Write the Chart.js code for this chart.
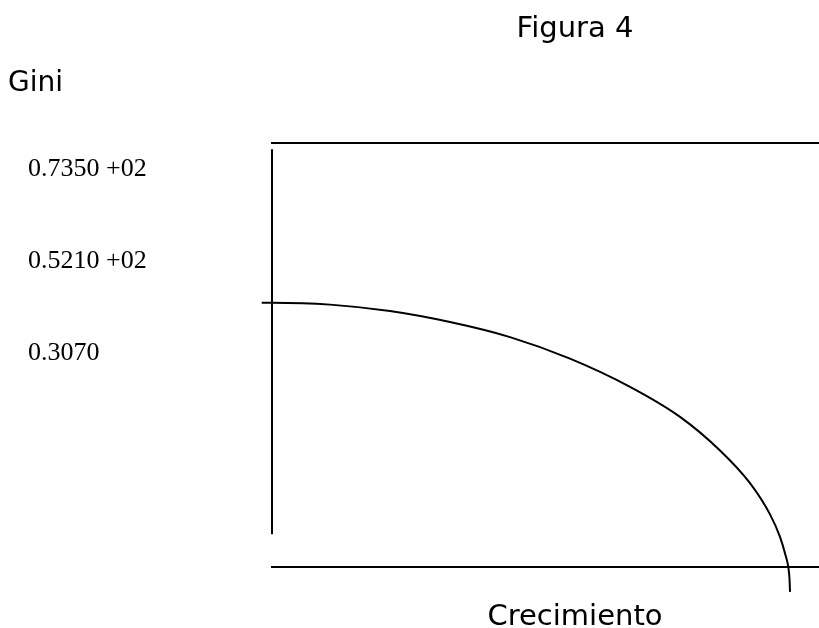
<!DOCTYPE html>
<html>
<head>
<meta charset="utf-8">
<title>Figura 4</title>
<script src="https://cdn.jsdelivr.net/npm/chart.js@4/dist/chart.umd.min.js"></script>
<style>
    html, body { margin: 0; padding: 0; background: #fff; overflow: hidden; }
    /* the figure is a crop: the drawing runs a bit past the right and bottom edges */
    #wrap { width: 819px; height: 628px; position: relative; overflow: hidden; }
    #chartGini { display: block; }
</style>
</head>
<body>
<div id="wrap"><canvas id="chartGini" width="878" height="640"></canvas></div>
<script>
// --- Data ---

// Gini tick values and the labels printed next to them
const giniTicks = [0.735, 0.521, 0.307];
const giniLabels = ['0.7350 +02', '0.5210 +02', '0.3070'];

// Growth (x) vs Gini (y) curve, sampled along the drawn line
const curveX = [-1.7, 0, 9.57, 19.47, 29.37, 39.27, 49.17, 59.08, 67.33, 73.93,
    78.88, 82.18, 83.83, 84.74, 85.2, 85.4, 85.48];
const curveY = [0.4244, 0.4244, 0.4202, 0.4051, 0.3795, 0.3445, 0.2944, 0.2287, 0.1588, 0.0805,
    0.0043, -0.0684, -0.1208, -0.1634, -0.1914, -0.2193, -0.2489];

// The free-standing vertical axis line
const vAxisX = [0, 0];
const vAxisY = [0.782, -0.115];

// scale ranges
const xRange = [0, 100];
const yRange = [-0.191, 0.796];

function toPoints(xs, ys) {
    return xs.map((x, i) => ({ x: x, y: ys[i] }));
}

const sansFont = "'DejaVu Sans', Verdana, sans-serif";
const serifFont = "'Liberation Serif', 'Times New Roman', serif";

Chart.defaults.color = '#000';

window.onload = function () {
    const ctx = document.getElementById('chartGini').getContext('2d');

    new Chart(ctx, {
        type: 'scatter',
        data: {
            datasets: [{
                label: 'Curva',
                data: toPoints(curveX, curveY),
                xAxisID: 'x',
                yAxisID: 'y',
                showLine: true,
                borderColor: '#000',
                borderWidth: 2,
                pointRadius: 0,
                cubicInterpolationMode: 'monotone',
                capBezierPoints: false,
                clip: false
            }, {
                label: 'Eje',
                data: toPoints(vAxisX, vAxisY),
                xAxisID: 'x',
                yAxisID: 'y',
                showLine: true,
                borderColor: '#000',
                borderWidth: 2,
                pointRadius: 0,
                clip: false
            }]
        },
        options: {
            responsive: false,
            animation: false,
            layout: { padding: { left: 8, right: 0, top: 0, bottom: 0 } },
            plugins: {
                legend: { display: false },
                tooltip: { enabled: false },
                title: {
                    display: true,
                    text: 'Figura 4',
                    fullSize: false,
                    font: { family: sansFont, size: 29, weight: 'normal' },
                    padding: { top: 12.3, bottom: 0 }
                },
                subtitle: {
                    display: true,
                    text: 'Gini',
                    align: 'start',
                    font: { family: sansFont, size: 28, weight: 'normal' },
                    padding: { top: 20.1, bottom: 42.5 }
                }
            },
            scales: {
                x: {
                    type: 'linear',
                    position: 'bottom',
                    min: xRange[0],
                    max: xRange[1],
                    grid: { display: false, drawTicks: false },
                    border: { display: true, color: '#000', width: 2 },
                    ticks: { display: false },
                    title: {
                        display: true,
                        text: 'Crecimiento',
                        font: { family: sansFont, size: 29, weight: 'normal' },
                        padding: { top: 33, bottom: 5.2 }
                    }
                },
                xTop: {
                    type: 'linear',
                    position: 'top',
                    min: xRange[0],
                    max: xRange[1],
                    grid: { display: false, drawTicks: false },
                    border: { display: true, color: '#000', width: 2 },
                    ticks: { display: false },
                    afterFit: (s) => { s.height = 0; }
                },
                yPad: {
                    type: 'linear',
                    position: 'left',
                    weight: 1,
                    grid: { display: false, drawTicks: false },
                    border: { display: false },
                    ticks: { display: false },
                    afterFit: (s) => { s.width = 20; }
                },
                y: {
                    type: 'linear',
                    position: 'left',
                    weight: 0,
                    min: yRange[0],
                    max: yRange[1],
                    grid: { display: false, drawTicks: false },
                    border: { display: false },
                    afterBuildTicks: (s) => { s.ticks = giniTicks.map(v => ({ value: v })); },
                    afterFit: (s) => { s.width = 244; },
                    ticks: {
                        autoSkip: false,
                        crossAlign: 'far',
                        padding: 0,
                        font: { family: serifFont, size: 26 },
                        callback: (value) => {
                            const i = giniTicks.indexOf(value);
                            return i >= 0 ? giniLabels[i] : '';
                        }
                    }
                }
            }
        }
    });
};
</script>
</body>
</html>
